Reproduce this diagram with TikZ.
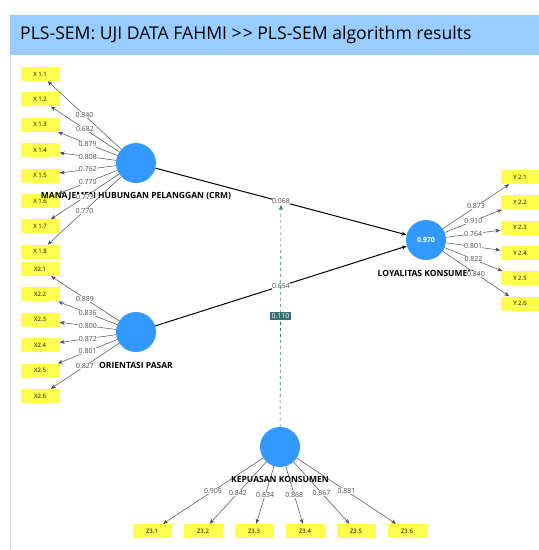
\documentclass[tikz,border=0pt]{standalone}
\usepackage{fontspec}
\setmainfont{Open Sans}
\usetikzlibrary{arrows.meta}
\definecolor{lvblue}{RGB}{51,153,255}
\definecolor{barblue}{RGB}{153,204,255}
\definecolor{indyellow}{RGB}{255,255,77}
\definecolor{modteal}{RGB}{58,112,112}

\begin{document}
\begin{tikzpicture}[x=1pt,y=-1pt,
  ind/.style={fill=indyellow,minimum width=39pt,minimum height=14pt,inner sep=0pt,font=\fontsize{6}{7}\selectfont},
  lv/.style={circle,fill=lvblue,minimum size=40pt,inner sep=0pt,text=white,font=\fontsize{7}{8}\selectfont\bfseries},
  lvname/.style={font=\fontsize{8.5}{9}\selectfont\bfseries},
  ld/.style={fill=white,inner sep=0.4pt,text=black!70,font=\fontsize{7}{8}\selectfont},
  load/.style={->,black!70,line width=0.5pt},
  struct/.style={->,black,line width=1pt},
  modarr/.style={->,modteal,dashed,line width=0.6pt},
  >={Stealth[length=5pt,width=4pt]}]
  \useasboundingbox (0,0) rectangle (539,550);
  \fill[barblue] (10,15) rectangle (539,55);
  \draw[black!15] (10,55) -- (10,550);
  \node[anchor=west,inner sep=0pt,font=\fontsize{17.6}{21}\selectfont] (title) at (20,35) {PLS-SEM: UJI DATA FAHMI >\kern1pt> PLS-SEM algorithm results};

  \node[ind] (x11) at (40,74) {X 1.1};
  \node[ind] (x12) at (40,99.4) {X 1.2};
  \node[ind] (x13) at (40,124.8) {X 1.3};
  \node[ind] (x14) at (40,150.2) {X 1.4};
  \node[ind] (x15) at (40,175.6) {X 1.5};
  \node[ind] (x16) at (40,201) {X 1.6};
  \node[ind] (x17) at (40,226.4) {X 1.7};
  \node[ind] (x18) at (40,251.8) {X 1.8};
  \node[ind] (x21) at (40,269) {X2.1};
  \node[ind] (x22) at (40,294.4) {X2.2};
  \node[ind] (x23) at (40,319.8) {X2.3};
  \node[ind] (x24) at (40,345.2) {X2.4};
  \node[ind] (x25) at (40,370.6) {X2.5};
  \node[ind] (x26) at (40,396) {X2.6};
  \node[ind] (y21) at (520,177) {Y 2.1};
  \node[ind] (y22) at (520,202.3) {Y 2.2};
  \node[ind] (y23) at (520,227.6) {Y 2.3};
  \node[ind] (y24) at (520,252.9) {Y 2.4};
  \node[ind] (y25) at (520,278.2) {Y 2.5};
  \node[ind] (y26) at (520,303.5) {Y 2.6};
  \node[ind] (z31) at (152,531) {Z3.1};
  \node[ind] (z32) at (203,531) {Z3.2};
  \node[ind] (z33) at (254,531) {Z3.3};
  \node[ind] (z34) at (305,531) {Z3.4};
  \node[ind] (z35) at (356,531) {Z3.5};
  \node[ind] (z36) at (407,531) {Z3.6};

  \node[lvname] (crmname) at (136,196) {MANAJEMEN HUBUNGAN PELANGGAN (CRM)};
  \node[lvname] (opname) at (136,365) {ORIENTASI PASAR};
  \node[lvname] (lkname) at (426,273) {LOYALITAS KONSUMEN};
  \node[lvname] (kkname) at (280,479) {KEPUASAN KONSUMEN};

  \node[lv] (crm) at (136,163) {};
  \node[lv] (op) at (136,332) {};
  \node[lv] (lk) at (426,240) {0.970};
  \node[lv] (kk) at (280,447) {};

  \draw[load] (crm) to node[ld] {0.840} (x11);
  \draw[load] (crm) to node[ld] {0.682} (x12);
  \draw[load] (crm) to node[ld] {0.879} (x13);
  \draw[load] (crm) to node[ld] {0.808} (x14);
  \draw[load] (crm) to node[ld] {0.762} (x15);
  \draw[load] (crm) to node[ld] {0.770} (x16);
  \draw[load] (crm) to node[ld] {0.773} (x17);
  \draw[load] (crm) to node[ld] {0.770} (x18);
  \draw[load] (op) to node[ld] {0.889} (x21);
  \draw[load] (op) to node[ld] {0.836} (x22);
  \draw[load] (op) to node[ld] {0.800} (x23);
  \draw[load] (op) to node[ld] {0.872} (x24);
  \draw[load] (op) to node[ld] {0.801} (x25);
  \draw[load] (op) to node[ld] {0.827} (x26);
  \draw[load] (lk) to node[ld] {0.873} (y21);
  \draw[load] (lk) to node[ld] {0.910} (y22);
  \draw[load] (lk) to node[ld] {0.764} (y23);
  \draw[load] (lk) to node[ld] {0.801} (y24);
  \draw[load] (lk) to node[ld] {0.822} (y25);
  \draw[load] (lk) to node[ld] {0.840} (y26);
  \draw[load] (kk) to node[ld] {0.905} (z31);
  \draw[load] (kk) to node[ld] {0.842} (z32);
  \draw[load] (kk) to node[ld] {0.834} (z33);
  \draw[load] (kk) to node[ld] {0.868} (z34);
  \draw[load] (kk) to node[ld] {0.867} (z35);
  \draw[load] (kk) to node[ld] {0.881} (z36);

  \draw[struct] (crm) to node[ld] (crmlk) {0.068} (lk);
  \draw[struct] (op) to node[ld] (oplk) {0.654} (lk);
  \draw[modarr] (kk) to node[fill=modteal,text=white,inner sep=1.6pt,font=\fontsize{7}{8}\selectfont] (modval) {0.110} (crmlk);
\end{tikzpicture}
\end{document}
